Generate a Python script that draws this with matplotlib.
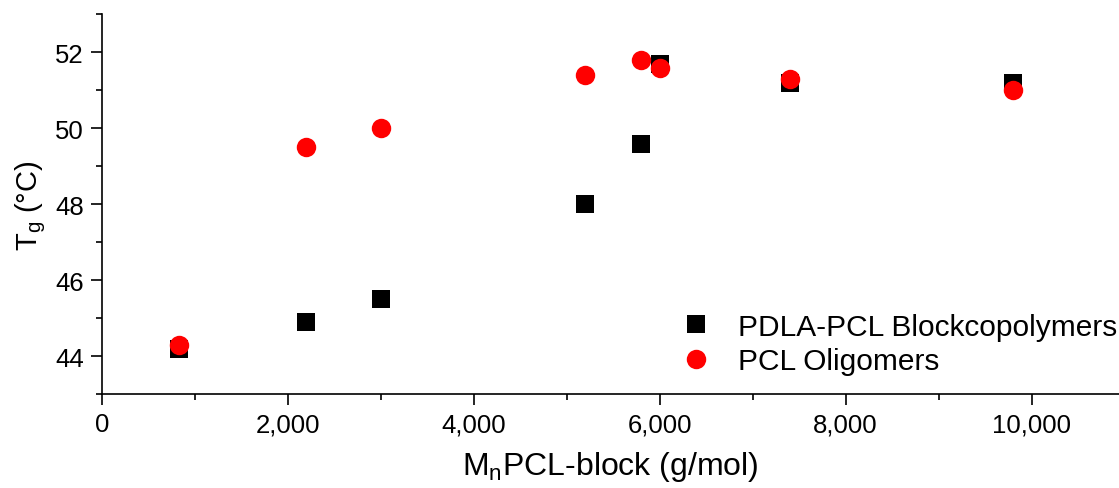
import matplotlib
matplotlib.use("Agg")
import matplotlib.pyplot as plt
from matplotlib.ticker import MultipleLocator, FuncFormatter

plt.rcParams['font.family'] = ['Liberation Sans', 'DejaVu Sans']
plt.rcParams['mathtext.fontset'] = 'custom'
plt.rcParams['mathtext.rm'] = 'Liberation Sans'

# molecular weight of PCL block (g/mol)
mn_pcl = [830, 2200, 3000, 5200, 5800, 6000, 7400, 9800]
# Tg of block copolymers and oligomers (degC)
tg_block = [44.2, 44.9, 45.5, 48.0, 49.6, 51.7, 51.2, 51.2]
mn_olig = [830, 2200, 3000, 5200, 5800, 6000, 7400, 9800]
tg_olig = [44.3, 49.5, 50.0, 51.4, 51.8, 51.6, 51.3, 51.0]

fig = plt.figure(figsize=(11.19, 4.89), dpi=100)
ax = fig.add_axes([0.0909, 0.1916, 0.9091, 0.7771])

ax.plot(mn_pcl, tg_block, 's', color='black', ms=12.3, mec='black', mew=0,
        label='PDLA-PCL Blockcopolymers', clip_on=False)
ax.plot(mn_olig, tg_olig, 'o', color='#ff0000', ms=14, mew=0,
        label='PCL Oligomers', clip_on=False)

ax.set_xlim(0, 10940)
ax.set_ylim(43, 53)

ax.xaxis.set_major_locator(MultipleLocator(2000))
ax.xaxis.set_minor_locator(MultipleLocator(1000))
ax.yaxis.set_major_locator(MultipleLocator(2))
ax.yaxis.set_minor_locator(MultipleLocator(1))
ax.xaxis.set_major_formatter(FuncFormatter(lambda v, p: f"{int(v):,}"))

for s in ['top', 'right']:
    ax.spines[s].set_visible(False)
for s in ['left', 'bottom']:
    ax.spines[s].set_linewidth(1.2)

ax.tick_params(which='major', direction='out', length=8, width=1.2, labelsize=18.5, pad=5)
ax.tick_params(which='minor', direction='out', length=4, width=1.2)

ax.set_xlabel(r'M$_\mathregular{n}$PCL-block (g/mol)', fontsize=23, labelpad=9)
ax.set_ylabel(r'T$_\mathregular{g}$ (°C)', fontsize=21, labelpad=5)

ax.legend(loc='center left', bbox_to_anchor=(0.5547, 0.132), frameon=False,
          fontsize=21.5, borderpad=0, borderaxespad=0, handlelength=2,
          handletextpad=0.42, labelspacing=0.22, numpoints=1)

fig.savefig('out.png', dpi=100)
